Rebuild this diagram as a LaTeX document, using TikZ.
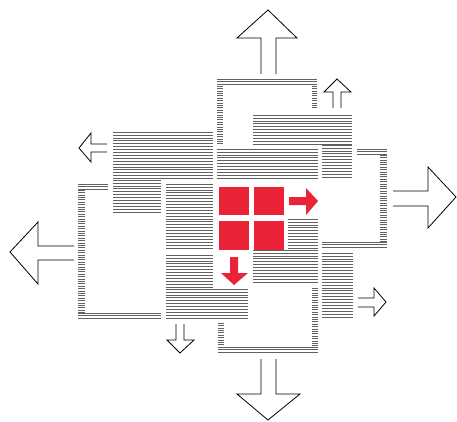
\documentclass[tikz,border=0pt]{standalone}
\definecolor{signalred}{RGB}{234,36,54}
\tikzset{
  hatchline/.style={draw=black!62, line width=0.5pt},
  outarrow/.style={draw=black, line width=0.8pt, fill=white, line join=miter},
  redshape/.style={fill=signalred, draw=none}
}
\newcommand\hatch[5]{%
  \pgfmathsetmacro\hatchnext{#2+#5}%
  \foreach \yy in {#2,\hatchnext,...,#4}{\draw[hatchline] (#1,\yy) -- (#3,\yy);}%
}
\begin{document}
\begin{tikzpicture}[x=1pt,y=-1pt]
\useasboundingbox (0,0) rectangle (457,421);
% top frame
\hatch{217}{79}{317}{86}{2.4}
\hatch{217}{86}{223}{144}{2.4}
\hatch{312}{86}{317}{109}{2.4}
% top-right L block
\hatch{253}{115}{352}{145}{2.9}
\hatch{322}{145}{352}{179}{2.9}
% left L block
\hatch{113}{132}{213}{180}{2.9}
\hatch{113}{180}{161}{214}{2.9}
% centre top block
\hatch{217}{149}{318}{179}{2.9}
% right frame
\hatch{357}{149}{387}{155}{2.4}
\hatch{380}{155}{387}{242}{2.4}
\hatch{322}{242}{387}{247}{2.4}
% left frame
\hatch{78}{184}{108}{190}{2.4}
\hatch{78}{190}{85}{313}{2.4}
\hatch{78}{313}{161}{319}{2.4}
% centre-left blocks
\hatch{166}{184}{213}{249}{2.9}
\hatch{166}{255}{213}{289}{2.9}
\hatch{166}{289}{248}{319}{2.9}
% centre-right block
\hatch{288}{219}{318}{250}{2.9}
\hatch{253}{250}{318}{283}{2.9}
% right lower column
\hatch{322}{253}{353}{317}{2.9}
% bottom frame
\hatch{218}{323}{224}{347}{2.4}
\hatch{218}{347}{318}{353}{2.4}
\hatch{312}{288}{318}{347}{2.4}
% red squares
\fill[redshape] (219,187) rectangle (249,215);
\fill[redshape] (254,187) rectangle (284,215);
\fill[redshape] (219,221) rectangle (249,250);
\fill[redshape] (254,221) rectangle (284,250);
\fill[redshape] (289,197) -- (306,197) -- (306,188) -- (318,201) -- (306,215) -- (306,205) -- (289,205) -- cycle;
\fill[redshape] (230,257) -- (238,257) -- (238,273) -- (248,273) -- (234,285) -- (221,273) -- (230,273) -- cycle;
% big outline arrows
\draw[outarrow] (261,74) -- (261,38) -- (237,38) -- (268,10) -- (297,38) -- (276,38) -- (276,74);
\draw[outarrow] (261,359) -- (261,394) -- (237,394) -- (268,420) -- (300,394) -- (276,394) -- (276,359);
\draw[outarrow] (74,246) -- (38,246) -- (38,222) -- (10,252) -- (38,284) -- (38,260) -- (74,260);
\draw[outarrow] (393,191) -- (428,191) -- (428,167) -- (456,197) -- (428,228) -- (428,206) -- (393,206);
% small outline arrows
\draw[outarrow] (333,108) -- (333,92) -- (324,92) -- (337,79) -- (351,92) -- (341,92) -- (341,108);
\draw[outarrow] (107,144) -- (91,144) -- (91,133) -- (79,148) -- (91,162) -- (91,152) -- (107,152);
\draw[outarrow] (176,324) -- (176,340) -- (167,340) -- (180,353) -- (194,340) -- (184,340) -- (184,324);
\draw[outarrow] (358,298) -- (374,298) -- (374,288) -- (386,302) -- (374,316) -- (374,307) -- (358,307);
\end{tikzpicture}
\end{document}
